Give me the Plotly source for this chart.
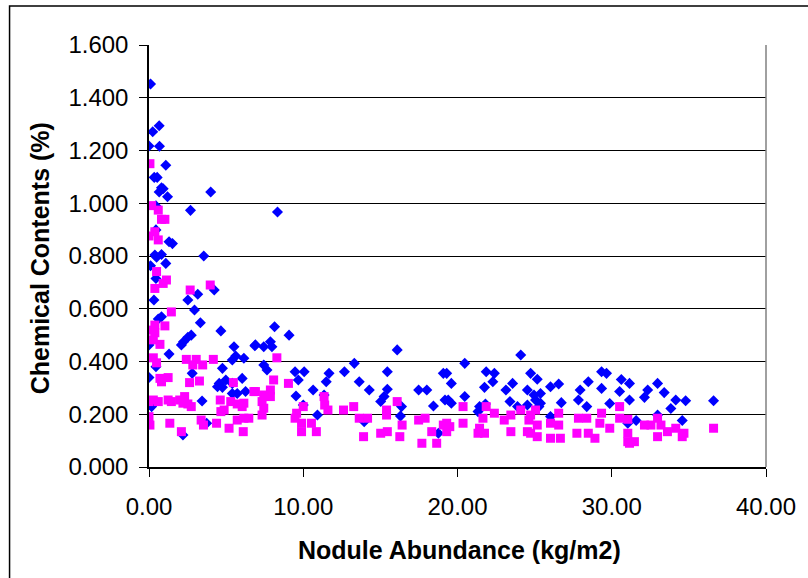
import plotly.graph_objects as go

blue_x = [0.10,0.66,0.24,0.00,0.68,1.09,0.34,0.53,0.81,0.92,0.66,1.20,4.00,0.45,2.69,0.45,1.30,1.52,0.38,0.81,3.55,8.33,
          0.10,0.49,1.09,0.45,3.16,4.23,2.52,0.32,2.95,0.81,0.60,3.33,4.66,2.74,2.52,2.24,2.10,0.00,5.51,6.86,1.30,5.40,6.15,5.62,0.45,4.76,0.00,2.80,4.55,4.98,4.76,4.44,5.40,6.04,5.40,5.72,6.26,3.44,0.17,2.20,3.74,
          8.14,9.08,6.90,7.44,7.87,7.97,16.09,7.44,7.65,9.47,10.06,9.68,11.67,11.49,12.67,13.31,13.63,14.28,15.45,15.45,15.24,15.02,9.53,10.64,11.35,10.92,10.00,16.37,16.30,17.48,18.01,18.44,19.08,19.19,18.76,13.95,
          24.10,20.47,19.30,19.60,19.40,19.60,20.47,21.86,22.39,22.29,21.75,21.43,21.33,21.81,23.57,23.14,23.40,23.89,24.74,25.17,24.53,24.96,25.38,25.06,25.38,24.53,25.28,26.03,26.56,26.73,26.03,27.95,28.48,27.84,28.38,29.34,29.66,29.34,29.87,30.62,31.15,30.51,31.15,31.04,
          32.33,32.97,33.40,32.12,34.15,34.79,33.83,32.97,34.57,31.58,36.60]
blue_y = [1.452,1.294,1.271,1.217,1.216,1.144,1.098,1.098,1.059,1.055,1.043,1.025,1.043,0.990,0.973,0.899,0.854,0.847,0.804,0.806,0.800,0.967,
          0.763,0.795,0.772,0.715,0.655,0.671,0.633,0.633,0.595,0.570,0.561,0.547,0.516,0.500,0.492,0.475,0.463,0.463,0.456,0.460,0.428,0.406,0.412,0.421,0.380,0.374,0.339,0.355,0.317,0.330,0.302,0.304,0.317,0.336,0.279,0.279,0.286,0.250,0.229,0.121,0.166,
          0.532,0.500,0.463,0.456,0.475,0.456,0.444,0.387,0.368,0.361,0.361,0.330,0.355,0.323,0.361,0.393,0.323,0.292,0.361,0.295,0.267,0.248,0.269,0.292,0.273,0.197,0.235,0.229,0.193,0.292,0.292,0.231,0.355,0.254,0.128,0.172,
          0.425,0.393,0.355,0.317,0.254,0.242,0.267,0.361,0.355,0.323,0.302,0.229,0.210,0.239,0.317,0.292,0.248,0.229,0.355,0.333,0.292,0.273,0.279,0.254,0.242,0.235,0.229,0.304,0.315,0.244,0.191,0.292,0.323,0.254,0.229,0.361,0.355,0.298,0.241,0.332,0.317,0.286,0.254,0.166,
          0.292,0.317,0.282,0.264,0.254,0.251,0.222,0.197,0.176,0.176,0.251]

pink_x = [0.06,0.17,0.60,0.81,1.03,0.00,0.38,0.60,
          0.49,1.13,0.92,0.38,3.97,2.67,1.45,0.38,1.03,0.06,0.38,0.28,0.71,0.28,0.49,2.42,3.06,2.84,3.48,4.17,0.71,1.24,0.81,2.63,3.27,5.47,6.80,0.00,0.28,0.60,1.24,1.45,1.99,2.31,2.20,2.52,2.74,4.62,5.30,5.72,6.04,6.15,4.66,4.87,0.00,0.06,1.35,3.38,3.53,4.38,5.19,5.72,6.15,6.11,2.10,
          8.29,8.08,9.04,6.90,7.44,7.87,7.87,7.33,7.44,7.33,6.47,9.57,10.00,9.47,9.89,10.53,9.89,10.85,11.35,11.39,11.60,12.61,13.27,13.63,14.17,13.91,15.40,15.40,16.09,16.41,15.02,15.45,16.26,17.48,17.90,18.33,17.69,18.65,19.08,
          20.36,20.36,19.30,19.50,19.30,21.43,21.75,21.33,21.86,22.39,21.65,23.03,23.46,23.46,24.10,24.74,25.06,24.63,24.74,25.17,24.53,25.17,26.03,26.56,26.56,26.03,26.67,27.84,28.38,27.74,28.48,28.91,29.34,29.23,29.87,30.51,30.51,31.04,31.15,
          31.04,32.12,32.54,32.97,33.19,32.97,33.61,34.15,34.68,34.57,31.04,31.47,36.60]
pink_y = [1.150,0.991,0.974,0.939,0.939,0.876,0.892,0.861,
          0.741,0.709,0.696,0.677,0.690,0.671,0.588,0.538,0.535,0.519,0.509,0.482,0.465,0.414,0.395,0.408,0.408,0.387,0.387,0.408,0.336,0.339,0.323,0.320,0.326,0.320,0.286,0.248,0.254,0.248,0.254,0.248,0.254,0.267,0.242,0.239,0.229,0.254,0.248,0.239,0.229,0.242,0.210,0.216,0.191,0.159,0.166,0.178,0.159,0.166,0.147,0.178,0.185,0.134,0.134,
          0.414,0.330,0.317,0.286,0.273,0.292,0.267,0.248,0.223,0.197,0.185,0.204,0.229,0.185,0.166,0.166,0.134,0.134,0.267,0.235,0.216,0.216,0.229,0.185,0.185,0.115,0.216,0.197,0.248,0.159,0.128,0.134,0.115,0.178,0.185,0.134,0.090,0.090,0.159,
          0.229,0.166,0.166,0.153,0.134,0.147,0.128,0.128,0.229,0.204,0.185,0.178,0.197,0.134,0.216,0.197,0.216,0.178,0.128,0.115,0.134,0.159,0.166,0.204,0.159,0.109,0.109,0.185,0.185,0.128,0.128,0.109,0.204,0.166,0.147,0.229,0.185,0.128,0.090,
          0.181,0.159,0.159,0.185,0.159,0.115,0.134,0.147,0.128,0.115,0.096,0.096,0.147]

x_title = "Nodule Abundance (kg/m2)"
y_title = "Chemical Contents (%)"

font_family = "Liberation Sans, Arial, sans-serif"

fig = go.Figure()
fig.add_trace(go.Scatter(x=blue_x, y=blue_y, mode="markers",
                         marker=dict(symbol="diamond", size=8.5, color="#0000FF", line=dict(width=0)),
                         showlegend=False))
fig.add_trace(go.Scatter(x=pink_x, y=pink_y, mode="markers",
                         marker=dict(symbol="square", size=9, color="#FF00FF", line=dict(width=0)),
                         showlegend=False))

fig.update_layout(
    width=808, height=578,
    margin=dict(l=149, r=35, t=45, b=111),
    paper_bgcolor="white", plot_bgcolor="white",
    font=dict(family=font_family, color="black", size=24),
    xaxis=dict(range=[0, 40], tickvals=[0, 10, 20, 30, 40], tickformat=".2f",
               showgrid=False, zeroline=False, showline=True, linecolor="black", linewidth=1.5,
               ticks="outside", ticklen=8, tickcolor="black", tickfont=dict(size=24),
               ticklabelstandoff=9),
    yaxis=dict(range=[0, 1.6], tickvals=[0, 0.2, 0.4, 0.6, 0.8, 1.0, 1.2, 1.4, 1.6], tickformat=".3f",
               showgrid=True, gridcolor="black", gridwidth=1, zeroline=False,
               showline=True, linecolor="black", linewidth=1.5,
               ticks="outside", ticklen=8, tickcolor="black", tickfont=dict(size=24),
               ticklabelstandoff=6),
    annotations=[
        dict(text="<b>" + x_title + "</b>", xref="paper", yref="paper", x=0.503, y=-0.1967,
             xanchor="center", yanchor="middle", showarrow=False, font=dict(size=25)),
        dict(text="<b>" + y_title + "</b>", xref="paper", yref="paper", x=-0.1763, y=0.495,
             xanchor="center", yanchor="middle", textangle=-90, showarrow=False, font=dict(size=25)),
    ],
    shapes=[
        dict(type="line", xref="paper", yref="paper", x0=1, x1=1, y0=0, y1=1,
             line=dict(color="#808080", width=1.5)),
        dict(type="rect", xref="paper", yref="paper", x0=-0.226, x1=1.1, y0=-0.3, y1=1.0924,
             line=dict(color="black", width=1.5), fillcolor="rgba(0,0,0,0)", layer="below"),
    ],
)

fig.write_html("out.html")
